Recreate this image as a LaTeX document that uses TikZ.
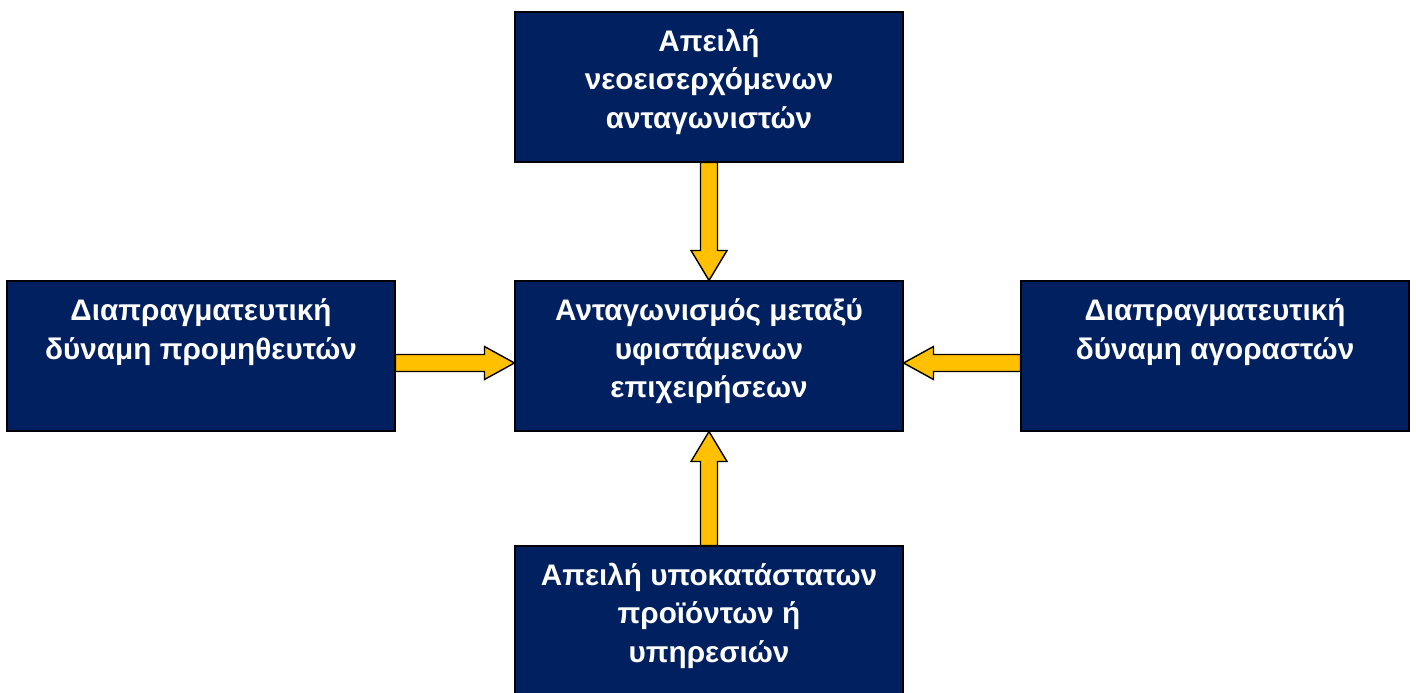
\documentclass[tikz,border=0pt]{standalone}
\usepackage{fontspec}
\setmainfont{Liberation Sans}
\usetikzlibrary{calc}
\definecolor{boxblue}{RGB}{0,32,96}
\definecolor{arrowyellow}{RGB}{255,192,0}

\begin{document}
\begin{tikzpicture}[
		forcebox/.style={shape=rectangle, draw=black, line width=0.6pt, fill=boxblue, minimum width=7.76cm, minimum height=3cm, inner sep=0pt},
		forcetext/.style={anchor=north, align=center, inner sep=0pt, text=white, font=\bfseries\fontsize{16.9}{21.9}\selectfont},
		blockarrow/.style={draw=black, line width=0.8pt, fill=arrowyellow, line join=miter}]
				\useasboundingbox (0, 0) rectangle (28.32, 13.86);
				% Boxes:
				\node[forcebox] (entry) at (14.18, 12.12){};
				\node[forcebox] (rivalry) at (14.18, 6.74){};
				\node[forcebox] (suppliers) at (4.02, 6.74){};
				\node[forcebox] (buyers) at (24.3, 6.74){};
				\node[forcebox] (substitutes) at (14.18, 1.44){};
				% Texts:
				\node[forcetext] (entrytext) at ($(entry.north)+(0,-0.34)$){Απειλή\\νεοεισερχόμενων\\ανταγωνιστών};
				\node[forcetext] (rivalrytext) at ($(rivalry.north)+(0,-0.36)$){Ανταγωνισμός μεταξύ\\υφιστάμενων\\επιχειρήσεων};
				\node[forcetext] (supplierstext) at ($(suppliers.north)+(0,-0.36)$){Διαπραγματευτική\\δύναμη προμηθευτών};
				\node[forcetext] (buyerstext) at ($(buyers.north)+(0,-0.36)$){Διαπραγματευτική\\δύναμη αγοραστών};
				\node[forcetext] (substitutestext) at ($(substitutes.north)+(0,-0.34)$){Απειλή υποκατάστατων\\προϊόντων ή\\υπηρεσιών};
				% Arrows:
				\coordinate (sa) at ($(suppliers.east)+(0,-0.14)$);
				\coordinate (sb) at ($(rivalry.west)+(0,-0.14)$);
				\coordinate (ba) at ($(buyers.west)+(0,-0.14)$);
				\coordinate (bb) at ($(rivalry.east)+(0,-0.14)$);
				\draw[blockarrow] ($(entry.south)+(-0.17,0)$) -- ($(rivalry.north)+(-0.17,0.6)$) -- ($(rivalry.north)+(-0.36,0.6)$) -- (rivalry.north) -- ($(rivalry.north)+(0.36,0.6)$) -- ($(rivalry.north)+(0.17,0.6)$) -- ($(entry.south)+(0.17,0)$) -- cycle;
				\draw[blockarrow] ($(substitutes.north)+(-0.17,0)$) -- ($(rivalry.south)+(-0.17,-0.6)$) -- ($(rivalry.south)+(-0.36,-0.6)$) -- (rivalry.south) -- ($(rivalry.south)+(0.36,-0.6)$) -- ($(rivalry.south)+(0.17,-0.6)$) -- ($(substitutes.north)+(0.17,0)$) -- cycle;
				\draw[blockarrow] ($(sa)+(0,0.17)$) -- ($(sb)+(-0.6,0.17)$) -- ($(sb)+(-0.6,0.33)$) -- (sb) -- ($(sb)+(-0.6,-0.33)$) -- ($(sb)+(-0.6,-0.17)$) -- ($(sa)+(0,-0.17)$) -- cycle;
				\draw[blockarrow] ($(ba)+(0,0.17)$) -- ($(bb)+(0.6,0.17)$) -- ($(bb)+(0.6,0.33)$) -- (bb) -- ($(bb)+(0.6,-0.33)$) -- ($(bb)+(0.6,-0.17)$) -- ($(ba)+(0,-0.17)$) -- cycle;
			\end{tikzpicture}
\end{document}
